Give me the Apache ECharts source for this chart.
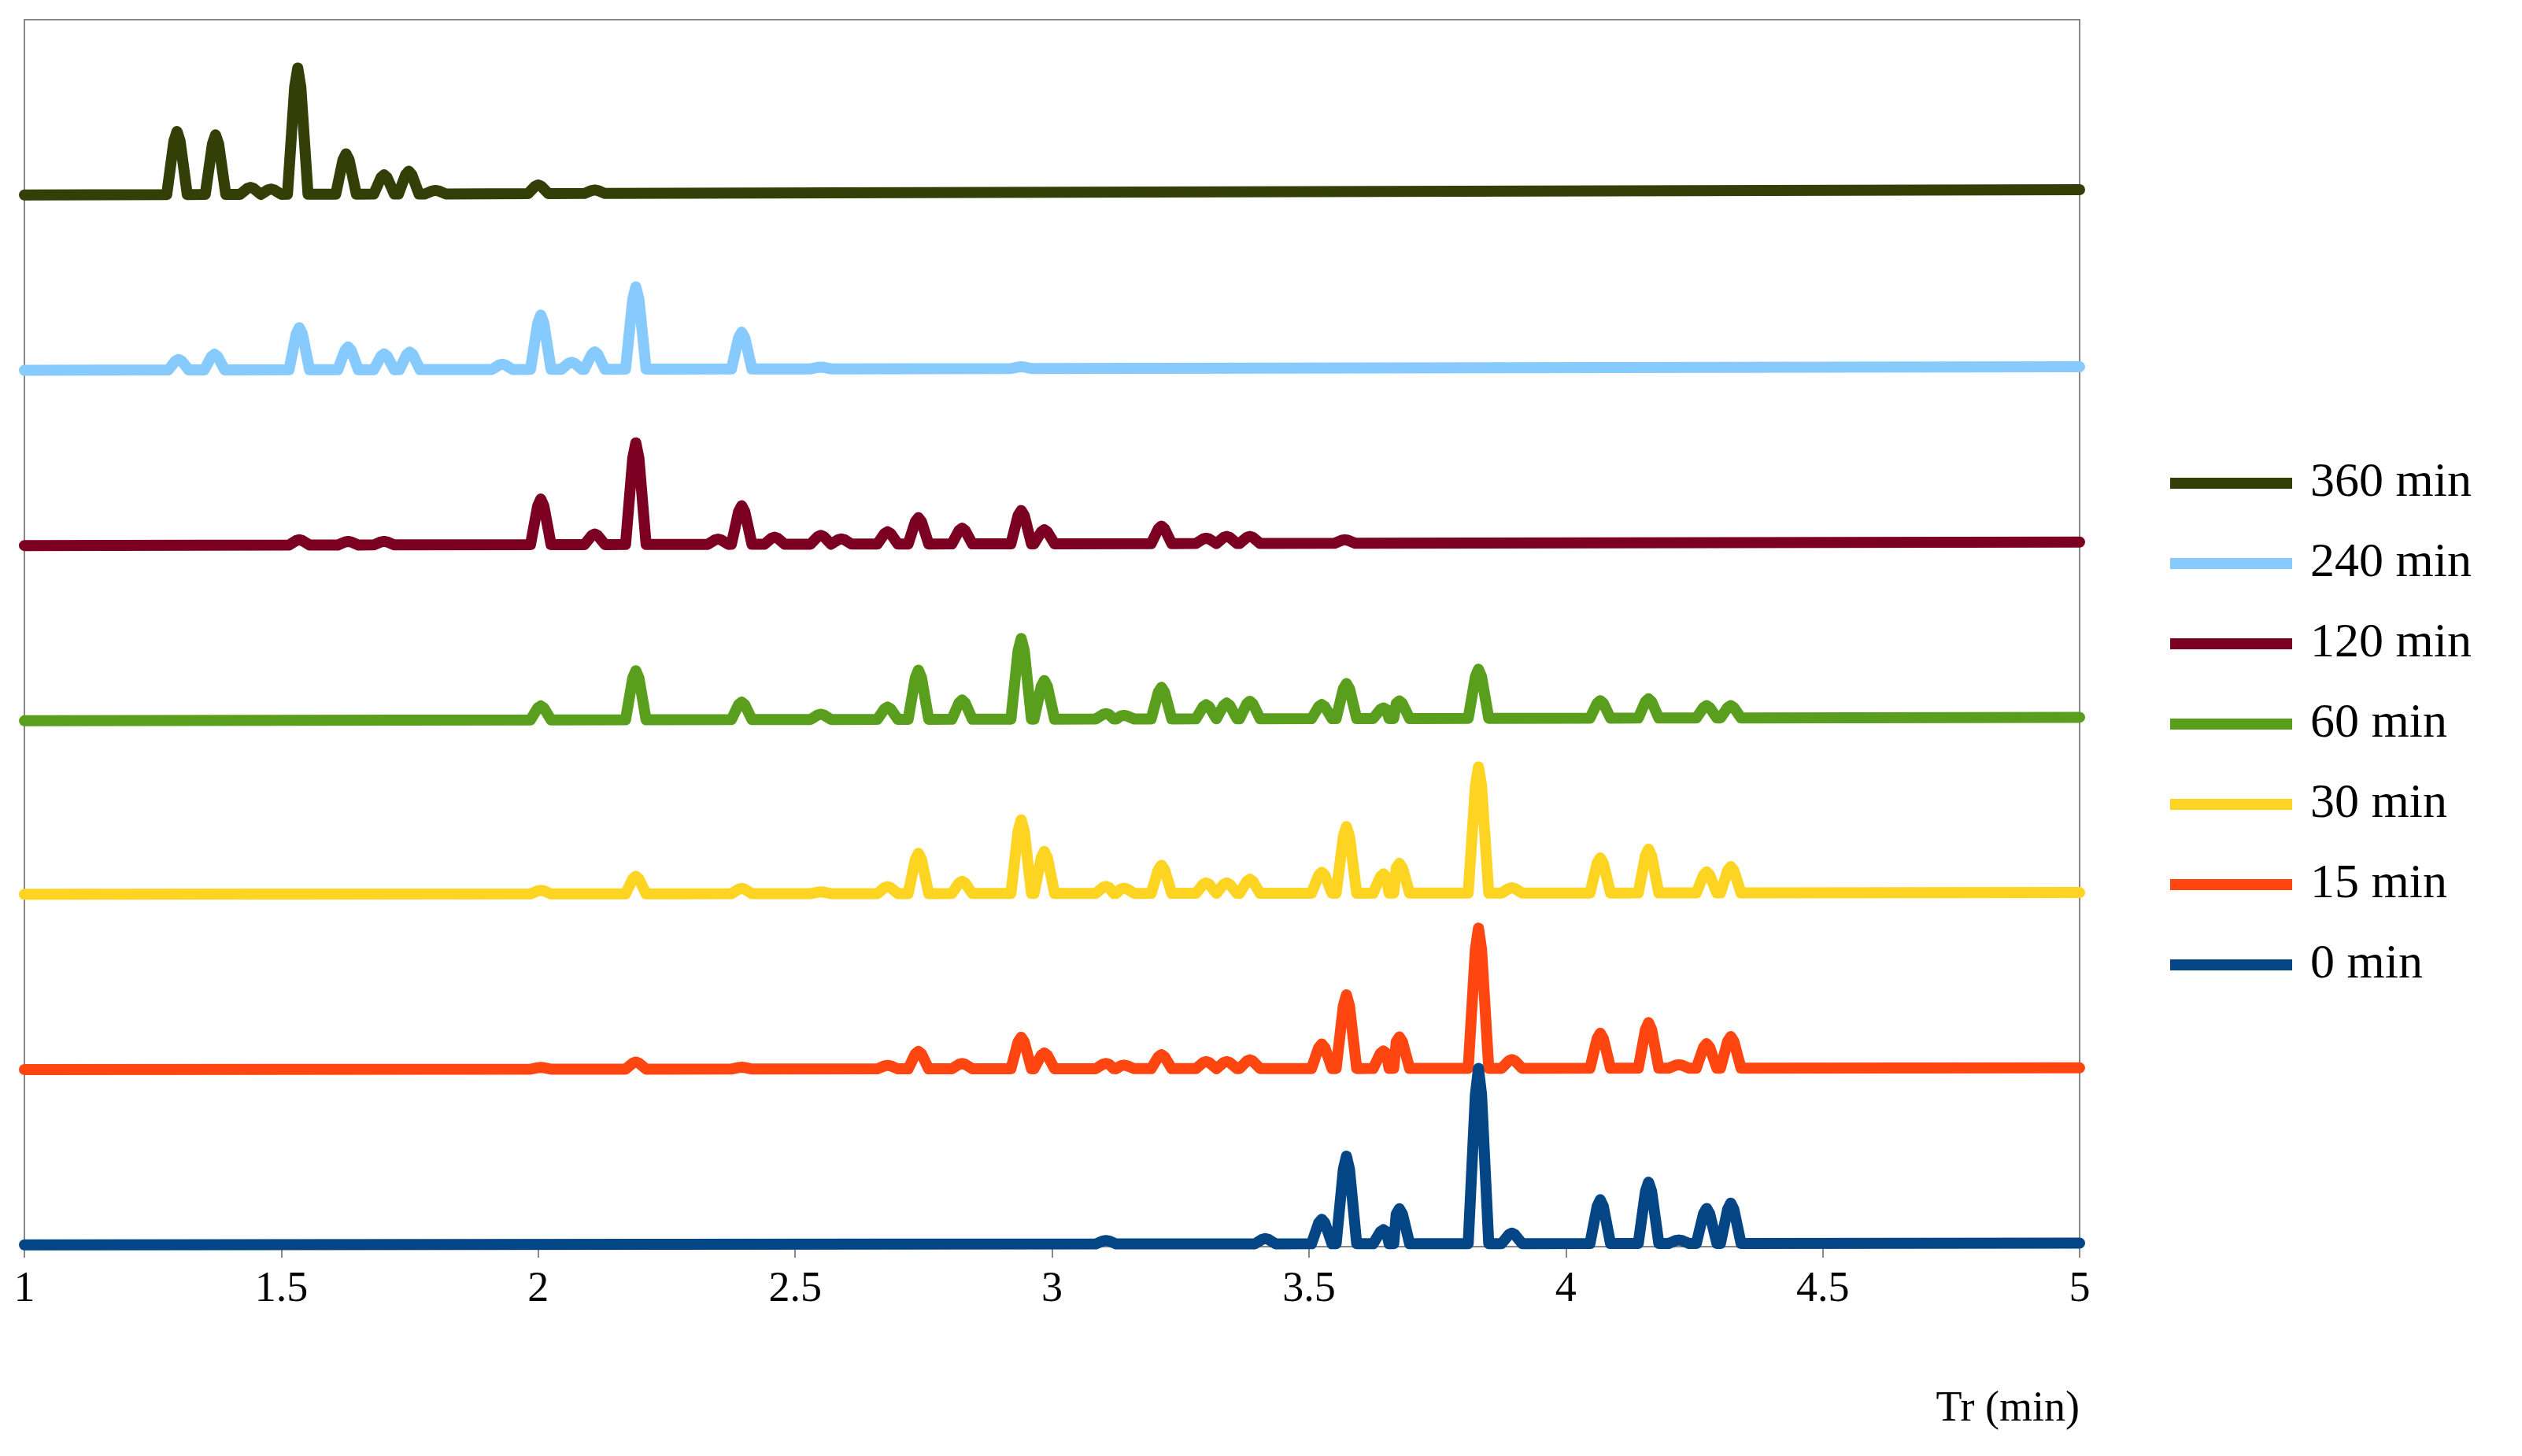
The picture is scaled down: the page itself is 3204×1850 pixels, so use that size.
<!DOCTYPE html>
<html><head><meta charset="utf-8">
<script src="https://cdn.jsdelivr.net/npm/echarts@6/dist/echarts.min.js"></script>
<style>html,body{margin:0;padding:0;background:#fff}#c{width:3204px;height:1850px}</style>
</head><body><div id="c"></div>
<script>
const seriesNames = ['360 min','240 min','120 min','60 min','30 min','15 min','0 min'];
const colors = ['#333F07','#87CAFD','#7B0022','#5A9E1E','#FDD422','#FF4510','#034585'];
// baseline at t=1 and t=5 (stacked offsets)
const baselines = [[6.00,6.03],[5.00,5.02],[4.00,4.02],[3.00,3.02],[2.01,2.02],[1.01,1.02],[0.01,0.02]];
// peaks: [retention time, height above baseline]
const peaks360 = [[1.297,0.36],[1.372,0.34],[1.44,0.04],[1.48,0.03],[1.532,0.72],[1.626,0.23],[1.70,0.11],[1.748,0.13],[1.80,0.02],[2.0,0.05],[2.11,0.02]];
const peaks240 = [[1.30,0.06],[1.37,0.09],[1.535,0.24],[1.63,0.13],[1.70,0.09],[1.75,0.10],[1.93,0.03],[2.005,0.31],[2.065,0.04],[2.11,0.10],[2.19,0.47],[2.396,0.21],[2.55,0.01],[2.94,0.01]];
const peaks120 = [[1.535,0.03],[1.63,0.02],[1.70,0.02],[2.005,0.26],[2.11,0.06],[2.19,0.58],[2.35,0.03],[2.396,0.22],[2.46,0.04],[2.55,0.05],[2.59,0.03],[2.68,0.07],[2.74,0.15],[2.825,0.09],[2.94,0.19],[2.985,0.08],[3.213,0.10],[3.30,0.03],[3.34,0.04],[3.385,0.04],[3.57,0.02]];
const peaks60 = [[2.005,0.08],[2.19,0.28],[2.396,0.10],[2.55,0.03],[2.68,0.07],[2.74,0.28],[2.825,0.11],[2.94,0.46],[2.985,0.22],[3.105,0.03],[3.14,0.02],[3.213,0.18],[3.30,0.08],[3.34,0.09],[3.385,0.10],[3.525,0.08],[3.573,0.20],[3.645,0.06],[3.676,0.10],[3.83,0.28],[4.067,0.10],[4.161,0.11],[4.274,0.07],[4.321,0.07]];
const peaks30 = [[2.005,0.02],[2.19,0.10],[2.396,0.03],[2.55,0.01],[2.68,0.04],[2.74,0.23],[2.825,0.07],[2.94,0.42],[2.985,0.24],[3.105,0.04],[3.14,0.03],[3.213,0.16],[3.30,0.06],[3.34,0.06],[3.385,0.08],[3.525,0.12],[3.573,0.38],[3.645,0.11],[3.676,0.17],[3.83,0.72],[3.895,0.03],[4.067,0.20],[4.161,0.25],[4.274,0.12],[4.321,0.15]];
const peaks15 = [[2.005,0.01],[2.19,0.04],[2.396,0.01],[2.68,0.02],[2.74,0.10],[2.825,0.03],[2.94,0.18],[2.985,0.09],[3.105,0.03],[3.14,0.02],[3.213,0.08],[3.30,0.04],[3.34,0.04],[3.385,0.05],[3.525,0.14],[3.573,0.42],[3.645,0.10],[3.676,0.18],[3.83,0.80],[3.895,0.05],[4.067,0.20],[4.161,0.26],[4.22,0.02],[4.274,0.14],[4.321,0.18]];
const peaks0 = [[3.105,0.02],[3.415,0.03],[3.525,0.14],[3.573,0.50],[3.645,0.08],[3.676,0.20],[3.83,1.00],[3.895,0.06],[4.067,0.25],[4.161,0.35],[4.22,0.02],[4.274,0.20],[4.321,0.23]];
const allPeaks = [peaks360,peaks240,peaks120,peaks60,peaks30,peaks15,peaks0];

const HALF = 0.02;
function build(i){
  const [b0,b1] = baselines[i];
  const base = t => b0 + (b1-b0)*(t-1)/4;
  const pts = [[1, base(1)]];
  allPeaks[i].forEach(([t,h]) => {
    pts.push([t-HALF, base(t)], [t-0.006, base(t)+h*0.85], [t, base(t)+h], [t+0.006, base(t)+h*0.85], [t+HALF, base(t)]);
  });
  pts.push([5, base(5)]);
  pts.sort((a,b)=>a[0]-b[0]);
  return pts;
}
const font = 'Liberation Serif';
const chart = echarts.init(document.getElementById('c'));
chart.setOption({
  animation:false,
  backgroundColor:'#fff',
  grid:{left:31,right:548+14,top:25,bottom:266,show:true,borderColor:'#888',borderWidth:2},
  legend:{
    data:seriesNames, orient:'vertical', left:2752, top:578,
    itemWidth:155, itemHeight:14, itemGap:40, icon:'rect',
    textStyle:{fontFamily:font,fontSize:62,color:'#000',padding:[0,0,0,18]}
  },
  xAxis:{type:'value',min:1,max:5,interval:0.5,
    name:'Tr (min)',nameLocation:'end',nameGap:0,
    nameTextStyle:{fontFamily:font,fontSize:54,color:'#000',align:'right',verticalAlign:'top',padding:[180,0,0,0]},
    axisLine:{lineStyle:{color:'#888',width:2}},
    axisTick:{show:true,length:14,lineStyle:{color:'#888',width:2}},
    axisLabel:{fontFamily:font,fontSize:54,color:'#000',margin:28},
    splitLine:{show:false}},
  yAxis:{type:'value',min:0,max:7,show:true,axisLabel:{show:false},axisTick:{show:false},
    axisLine:{show:true,lineStyle:{color:'#888',width:2}},splitLine:{show:false}},
  series:seriesNames.map((n,i)=>({name:n,type:'line',data:build(i),showSymbol:false,symbol:'none',
    lineStyle:{color:colors[i],width:14,join:'round',cap:'round'},itemStyle:{color:colors[i]}}))
});
</script></body></html>
